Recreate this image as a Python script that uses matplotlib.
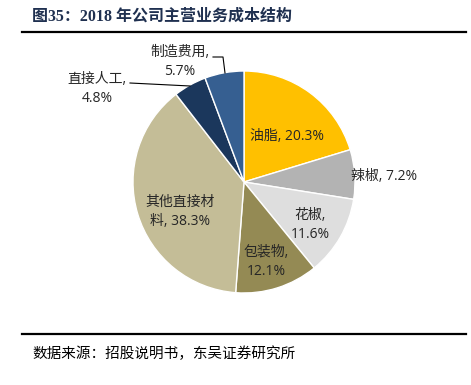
import matplotlib
matplotlib.use("Agg")
import matplotlib.pyplot as plt

plt.rcParams['font.family'] = ['Noto Sans CJK SC', 'DejaVu Sans']

# data
names = ['油脂', '辣椒', '花椒', '包装物', '其他直接材料', '直接人工', '制造费用']
shares = [20.3, 7.2, 11.6, 12.1, 38.3, 4.8, 5.7]
colors = ['#FFC000', '#B3B3B3', '#DEDEDE', '#948A54', '#C4BD97', '#1B375C', '#365F91']
label_text = ['油脂, 20.3%', '辣椒, 7.2%', '花椒,\n11.6%', '包装物,\n12.1%',
              '其他直接材\n料, 38.3%', '直接人工,\n4.8%', '制造费用,\n5.7%']
label_xy = [(287, 137), (384, 177), (310, 225), (266, 262), (180, 212), (97, 89), (180, 62)]

W, H = 471, 385
fig = plt.figure(figsize=(W / 100, H / 100), dpi=100)
ax = fig.add_axes([0, 0, 1, 1])

cx, cy, R = 244, H - 182, 111
ax.pie(shares, colors=colors, startangle=90, counterclock=False,
       center=(cx, cy), radius=R, frame=True,
       wedgeprops=dict(edgecolor='white', linewidth=1.0))

for t, (x, y) in zip(label_text, label_xy):
    ax.text(x, H - y, t, ha='center', va='center', fontsize=10,
            color='#262626', linespacing=1.3,
            family=['Open Sans', 'Noto Sans CJK SC'])

# leader lines
ax.plot([130, 190], [H - 83, H - 86], color='black', lw=0.8)
ax.plot([213, 223, 225], [H - 57, H - 57, H - 73], color='black', lw=0.8)

ax.set_xlim(0, W)
ax.set_ylim(0, H)
ax.set_aspect('equal')
ax.axis('off')

# title / rules / source
fig.text(32 / W, 1 - 17 / H, '图35：2018 年公司主营业务成本结构', fontsize=11.5,
         fontweight='bold', color='#1F3050', va='center', ha='left',
         family=['Liberation Serif', 'Noto Sans CJK SC'])
ax.plot([22, 466], [H - 31.5, H - 31.5], color='black', lw=1.6)
ax.plot([22, 466], [H - 334, H - 334], color='black', lw=1.6)
fig.text(32 / W, 1 - 354 / H, '数据来源：招股说明书，东吴证券研究所', fontsize=10.5,
         color='black', va='center', ha='left', fontweight='light')

fig.savefig('out.png', dpi=100)
